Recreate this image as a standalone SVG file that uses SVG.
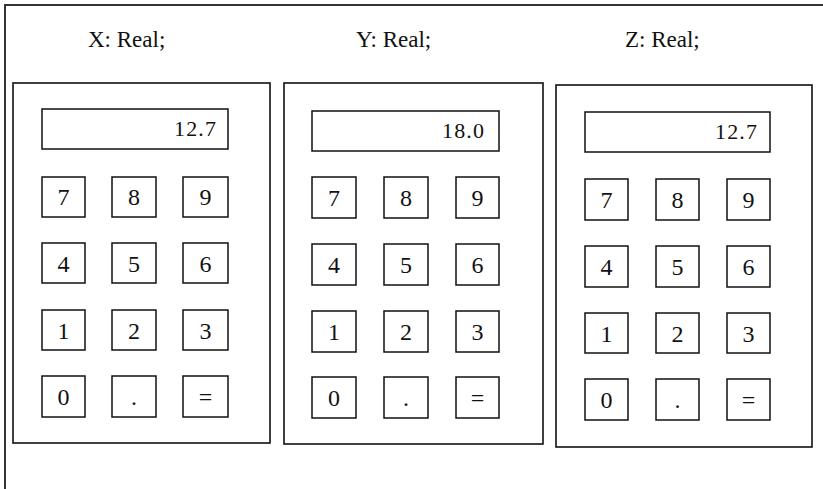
<svg xmlns="http://www.w3.org/2000/svg" width="823" height="489" viewBox="0 0 823 489">
<style>
.frame{fill:none;stroke:#333;stroke-width:2}
.body{fill:#fff;stroke:#111;stroke-width:1.6}
.box{fill:#fff;stroke:#111;stroke-width:1.5}
text{font-family:'Liberation Serif','Times New Roman','DejaVu Serif',serif;fill:#111}
.lbl{font-size:23px}
.disp{font-size:22px;text-anchor:end}
.key{font-size:24px;text-anchor:middle}
</style>
<rect width="823" height="489" fill="#fff"/>
<path class="frame" d="M5,489 V5 H823"/>

<g id="label-x"><text class="lbl" x="88" y="47">X: Real;</text></g>
<g id="label-y"><text class="lbl" x="356" y="47">Y: Real;</text></g>
<g id="label-z"><text class="lbl" x="625" y="47">Z: Real;</text></g>

<g id="calc-x">
<rect class="body" x="13" y="83" width="257" height="360"/>
<rect class="box" x="42" y="109" width="186" height="40"/>
<text class="disp" x="216" y="136" textLength="42" lengthAdjust="spacing">12.7</text>
<rect class="box" x="42" y="177" width="43" height="40"/><text class="key" x="63.5" y="205">7</text>
<rect class="box" x="112" y="177" width="44" height="40"/><text class="key" x="134" y="205">8</text>
<rect class="box" x="183" y="177" width="45" height="40"/><text class="key" x="205.5" y="205">9</text>
<rect class="box" x="42" y="243" width="43" height="40"/><text class="key" x="63.5" y="271.5">4</text>
<rect class="box" x="112" y="243" width="44" height="40"/><text class="key" x="134" y="271.5">5</text>
<rect class="box" x="183" y="243" width="45" height="40"/><text class="key" x="205.5" y="271.5">6</text>
<rect class="box" x="42" y="310" width="43" height="40"/><text class="key" x="63.5" y="338.5">1</text>
<rect class="box" x="112" y="310" width="44" height="40"/><text class="key" x="134" y="338.5">2</text>
<rect class="box" x="183" y="310" width="45" height="40"/><text class="key" x="205.5" y="338.5">3</text>
<rect class="box" x="42" y="376" width="43" height="41"/><text class="key" x="63.5" y="405">0</text>
<rect class="box" x="112" y="376" width="44" height="41"/><text class="key" x="134" y="405">.</text>
<rect class="box" x="183" y="376" width="45" height="41"/><text class="key" x="205.5" y="405">=</text>
</g>

<g id="calc-y">
<rect class="body" x="284" y="83" width="259" height="361"/>
<rect class="box" x="312" y="111" width="187" height="40"/>
<text class="disp" x="484" y="138" textLength="42" lengthAdjust="spacing">18.0</text>
<rect class="box" x="312" y="177" width="44" height="41"/><text class="key" x="334" y="205.5">7</text>
<rect class="box" x="384" y="177" width="44" height="41"/><text class="key" x="406" y="205.5">8</text>
<rect class="box" x="456" y="177" width="43" height="41"/><text class="key" x="477.5" y="205.5">9</text>
<rect class="box" x="312" y="244" width="44" height="41"/><text class="key" x="334" y="272.5">4</text>
<rect class="box" x="384" y="244" width="44" height="41"/><text class="key" x="406" y="272.5">5</text>
<rect class="box" x="456" y="244" width="43" height="41"/><text class="key" x="477.5" y="272.5">6</text>
<rect class="box" x="312" y="311" width="44" height="41"/><text class="key" x="334" y="339.5">1</text>
<rect class="box" x="384" y="311" width="44" height="41"/><text class="key" x="406" y="339.5">2</text>
<rect class="box" x="456" y="311" width="43" height="41"/><text class="key" x="477.5" y="339.5">3</text>
<rect class="box" x="312" y="377" width="44" height="41"/><text class="key" x="334" y="405.5">0</text>
<rect class="box" x="384" y="377" width="44" height="41"/><text class="key" x="406" y="405.5">.</text>
<rect class="box" x="456" y="377" width="43" height="41"/><text class="key" x="477.5" y="405.5">=</text>
</g>

<g id="calc-z">
<rect class="body" x="556" y="85" width="256" height="362"/>
<rect class="box" x="585" y="112" width="185" height="40"/>
<text class="disp" x="757" y="139" textLength="42" lengthAdjust="spacing">12.7</text>
<rect class="box" x="585" y="179" width="43" height="41"/><text class="key" x="606.5" y="207.5">7</text>
<rect class="box" x="656" y="179" width="43" height="41"/><text class="key" x="677.5" y="207.5">8</text>
<rect class="box" x="727" y="179" width="43" height="41"/><text class="key" x="748.5" y="207.5">9</text>
<rect class="box" x="585" y="246" width="43" height="41"/><text class="key" x="606.5" y="274.5">4</text>
<rect class="box" x="656" y="246" width="43" height="41"/><text class="key" x="677.5" y="274.5">5</text>
<rect class="box" x="727" y="246" width="43" height="41"/><text class="key" x="748.5" y="274.5">6</text>
<rect class="box" x="585" y="313" width="43" height="40"/><text class="key" x="606.5" y="341.5">1</text>
<rect class="box" x="656" y="313" width="43" height="40"/><text class="key" x="677.5" y="341.5">2</text>
<rect class="box" x="727" y="313" width="43" height="40"/><text class="key" x="748.5" y="341.5">3</text>
<rect class="box" x="585" y="379" width="43" height="41"/><text class="key" x="606.5" y="407.5">0</text>
<rect class="box" x="656" y="379" width="43" height="41"/><text class="key" x="677.5" y="407.5">.</text>
<rect class="box" x="727" y="379" width="43" height="41"/><text class="key" x="748.5" y="407.5">=</text>
</g>

<g id="connectors"></g>
</svg>
